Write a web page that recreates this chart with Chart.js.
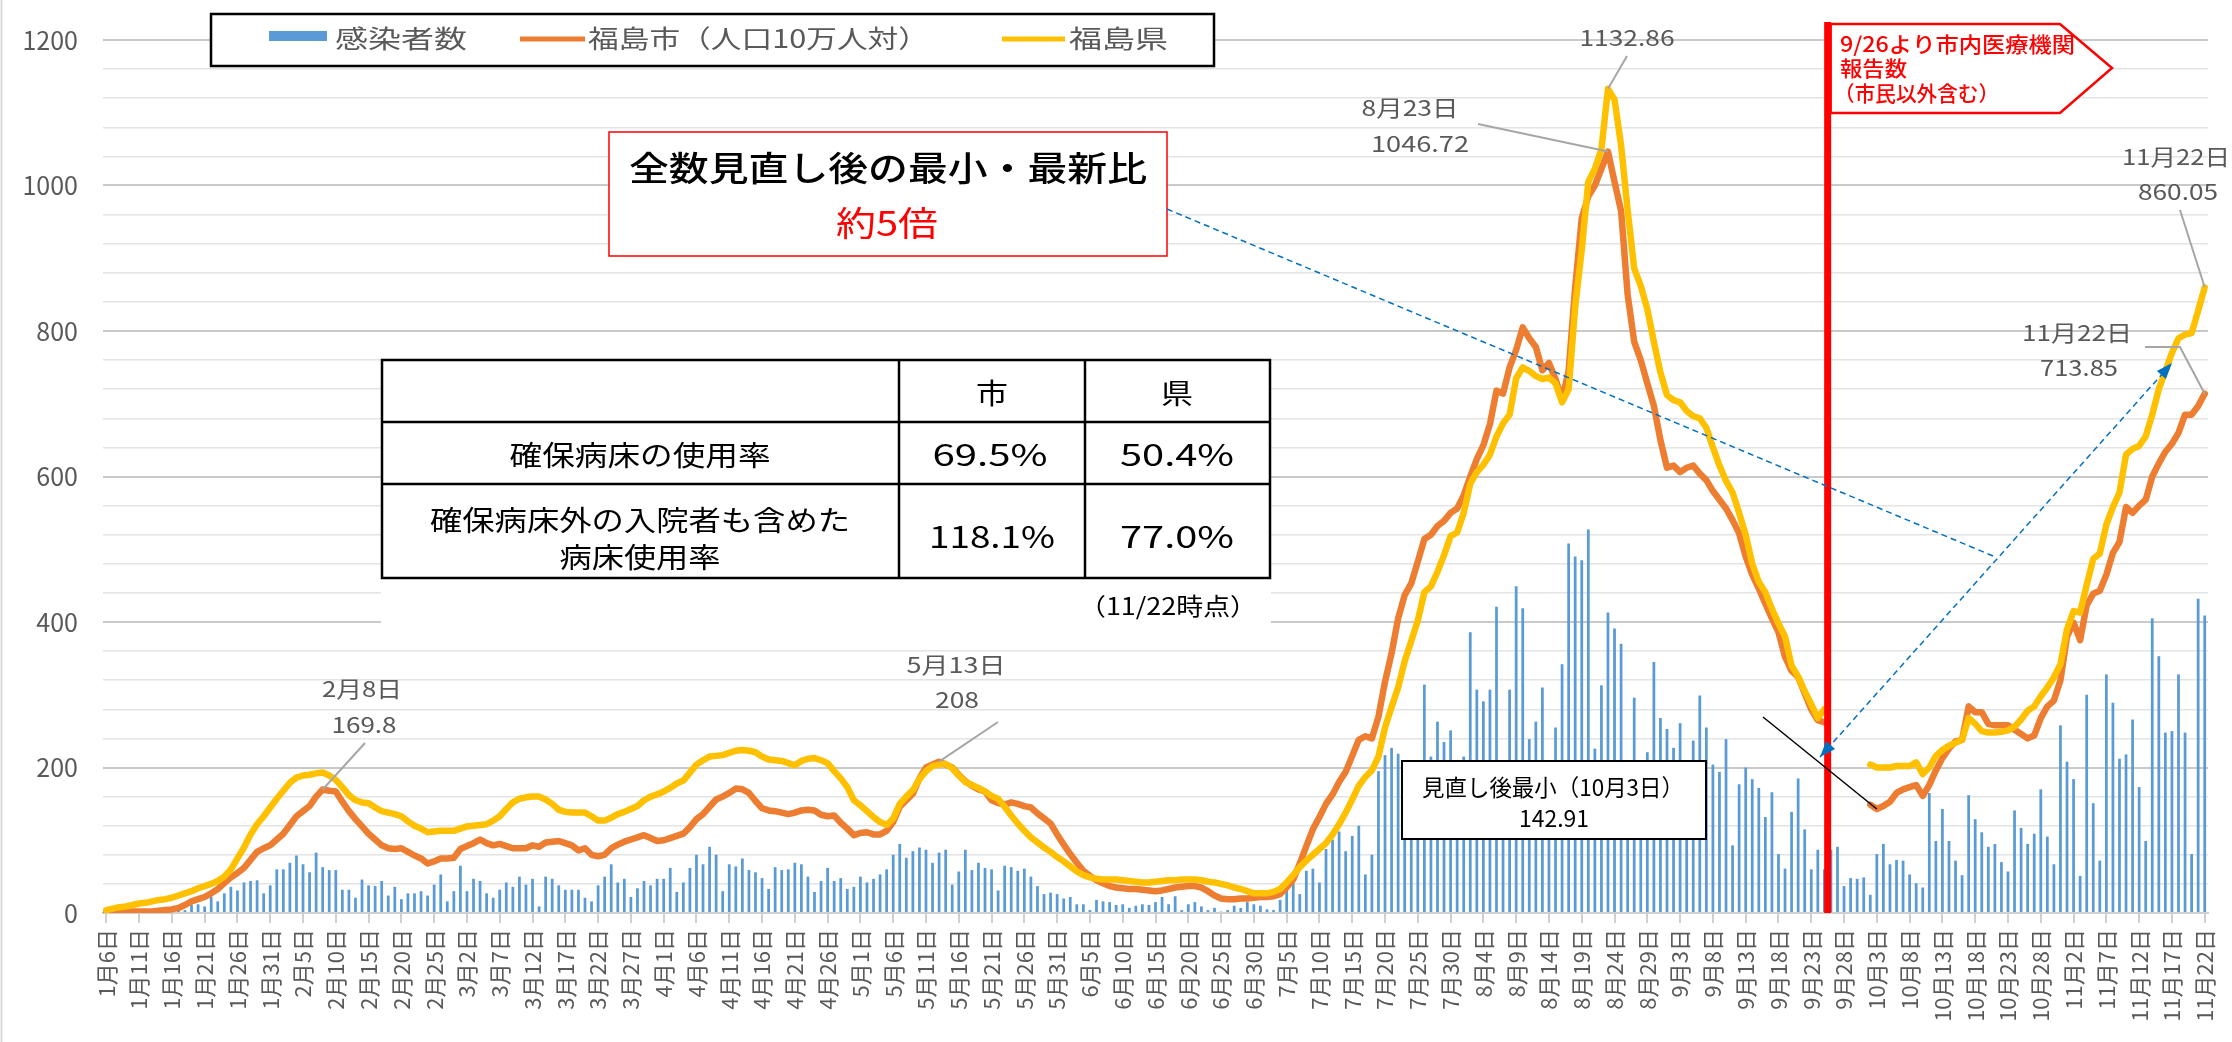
<!DOCTYPE html>
<html lang="ja">
<head>
<meta charset="utf-8">
<title>福島市 新規感染者数の推移</title>
<script src="https://cdn.jsdelivr.net/npm/chart.js@4.4.1/dist/chart.umd.min.js"></script>
<style>
  html, body { margin: 0; padding: 0; background: #fff; }
  #wrap { position: relative; width: 2232px; height: 1042px; }
</style>
</head>
<body>
<div id="wrap"><canvas id="grafico"></canvas></div>
<script>
// 1月6日から11月22日までの日付ラベル
const startDate = new Date(2022, 0, 6);
const dayCount = 321;
const dayLabels = [];
for (let i = 0; i < dayCount; i++) {
    const d = new Date(startDate.getFullYear(), startDate.getMonth(), startDate.getDate() + i);
    dayLabels.push((d.getMonth() + 1) + '月' + d.getDate() + '日');
}

// 感染者数（日別）
const cases = [
    1, 0, 2, 1, 1, 2, 2, 1, 3, 2,
    4, 3, 4, 11, 12, 9, 22, 16, 27, 36,
    31, 42, 44, 45, 27, 38, 60, 60, 69, 79,
    67, 56, 83, 63, 59, 59, 32, 32, 21, 46,
    38, 37, 44, 24, 36, 19, 27, 27, 30, 24,
    39, 53, 16, 30, 65, 30, 47, 44, 27, 21,
    32, 42, 36, 50, 39, 47, 9, 50, 47, 38,
    32, 32, 32, 21, 16, 38, 50, 67, 42, 47,
    22, 34, 44, 38, 47, 47, 62, 29, 42, 62,
    80, 67, 91, 80, 30, 67, 64, 75, 59, 56,
    48, 33, 63, 59, 60, 69, 67, 50, 29, 44,
    62, 44, 48, 33, 36, 50, 42, 47, 53, 60,
    80, 95, 76, 85, 90, 87, 69, 83, 87, 39,
    57, 87, 59, 69, 62, 60, 31, 65, 63, 58,
    61, 50, 37, 26, 28, 26, 20, 22, 12, 12,
    4, 18, 16, 15, 11, 12, 7, 10, 12, 11,
    15, 22, 12, 23, 4, 12, 15, 9, 4, 7,
    2, 4, 10, 7, 15, 12, 10, 5, 4, 18,
    31, 42, 26, 58, 61, 42, 88, 101, 112, 85,
    106, 120, 53, 80, 195, 217, 227, 219, 150, 175,
    120, 314, 215, 263, 235, 251, 170, 215, 386, 307,
    291, 307, 421, 180, 307, 449, 419, 239, 263, 310,
    150, 255, 342, 508, 490, 485, 527, 226, 313, 413,
    391, 370, 190, 296, 160, 221, 345, 268, 253, 227,
    261, 170, 237, 299, 255, 204, 194, 239, 93, 177,
    200, 184, 172, 132, 166, 81, 61, 139, 185, 115,
    60, 87, 60, 87, 91, 37, 48, 47, 49, 25,
    81, 95, 67, 73, 72, 53, 41, 35, 165, 99,
    143, 99, 72, 52, 162, 129, 111, 91, 95, 70,
    57, 141, 117, 95, 109, 170, 105, 67, 258, 208,
    184, 51, 300, 151, 72, 328, 289, 212, 218, 266,
    173, 99, 405, 353, 248, 250, 328, 248, 81, 432,
    409
];

// 福島市（人口10万人対）
const cityRate = [
    1, 1, 2, 2, 2, 2, 2, 2, 3, 4,
    5, 7, 11, 16, 19, 22, 27, 33, 41, 49,
    55, 62, 73, 84, 89, 93, 101, 109, 121, 133,
    140, 147, 160, 169.8, 168, 167, 153, 140, 129, 119,
    109, 101, 93, 89, 88, 89, 84, 79, 75, 68,
    71, 75, 75, 76, 88, 92, 96, 101, 96, 93,
    95, 92, 89, 89, 89, 93, 91, 97, 98, 99,
    96, 93, 86, 89, 80, 78, 80, 89, 94, 98,
    101, 104, 107, 103, 99, 100, 103, 106, 109, 118,
    129, 136, 146, 156, 160, 165, 171, 170, 165, 154,
    144, 141, 140, 138, 136, 138, 141, 142, 141, 135,
    133, 134, 124, 116, 107, 110, 111, 108, 108, 113,
    125, 146, 155, 164, 185, 200, 204, 208, 204, 200,
    190, 181, 175, 170, 167, 155, 151, 149, 152, 150,
    147, 145, 137, 130, 123, 108, 94, 81, 69, 58,
    51, 45, 41, 37, 35, 34, 33, 33, 32, 31,
    30, 31, 33, 35, 36, 37, 37, 35, 30, 24,
    20, 19, 19, 20, 20, 21, 22, 22, 23, 26,
    35, 46, 68, 92, 115, 132, 150, 163, 180, 194,
    216, 238, 243, 240, 270, 318, 357, 405, 437, 453,
    483, 514, 520, 532, 539, 550, 556, 574, 600, 624,
    643, 672, 718, 714, 750, 774, 805, 790, 778, 746,
    756, 734, 706, 745, 860, 955, 985, 1000, 1023, 1046.72,
    1005, 965, 850, 785, 760, 728, 697, 650, 612, 615,
    606, 612, 615, 604, 595, 580, 568, 556, 540, 522,
    490, 465, 446, 425, 405, 386, 352, 333, 324, 302,
    280, 265, 262, null, null, null, null, null, null, 149,
    142.91, 147, 153, 165, 170, 173, 176, 161, 176, 196,
    213, 226, 236, 238, 284, 276, 276, 260, 258, 258,
    258, 252, 246, 240, 244, 268, 284, 292, 320, 380,
    399, 375, 423, 439, 443, 465, 495, 510, 558, 550,
    560, 568, 600, 618, 634, 645, 660, 685, 685, 697,
    713.85
];

// 福島県（人口10万人対）
const prefRate = [
    4, 6, 8, 9, 11, 13, 14, 16, 18, 19,
    21, 24, 27, 30, 34, 37, 40, 44, 50, 60,
    75, 90, 108, 122, 133, 145, 157, 168, 179, 186,
    189, 190, 192, 193, 189, 183, 173, 162, 155, 152,
    151, 145, 140, 138, 136, 133, 126, 120, 116, 111,
    112, 113, 113, 113, 116, 119, 120, 121, 122, 127,
    133, 143, 152, 157, 159, 160, 160, 156, 150, 142,
    139, 138, 138, 138, 133, 127, 127, 131, 136, 139,
    143, 147, 155, 160, 163, 167, 172, 178, 182, 193,
    204, 210, 215, 216, 217, 220, 223, 224, 223, 221,
    215, 211, 210, 209, 206, 203, 209, 212, 213, 210,
    206, 195, 185, 173, 155, 148, 140, 132, 125, 121,
    130, 150, 160, 169, 184, 195, 202, 204, 205, 199,
    189, 180, 176, 172, 167, 161, 157, 146, 134, 123,
    113, 104, 97, 90, 84, 77, 71, 64, 57, 52,
    49, 47, 46, 46, 46, 45, 44, 43, 42, 42,
    43, 44, 45, 45, 46, 46, 46, 45, 43, 42,
    40, 38, 35, 33, 30, 27, 27, 27, 29, 33,
    42, 52, 63, 72, 80, 88, 96, 108, 122, 138,
    156, 175, 187, 196, 215, 255, 283, 310, 346, 374,
    402, 441, 449, 469, 492, 518, 523, 550, 590, 606,
    616, 630, 655, 673, 685, 735, 750, 745, 738, 734,
    736, 728, 702, 720, 833, 912, 1005, 1023, 1050, 1132.86,
    1118, 1055, 966, 886, 862, 830, 785, 743, 712, 705,
    702, 690, 683, 680, 667, 640, 615, 594, 578, 550,
    520, 480, 455, 441, 418, 398, 380, 340, 325, 305,
    287, 268, 280, null, null, null, null, null, null, 204,
    200, 200, 200, 202, 202, 202, 207, 191, 200, 216,
    224, 230, 234, 238, 268, 260, 250, 248, 248, 249,
    251, 256, 266, 278, 284, 298, 310, 324, 342, 390,
    415, 413, 451, 487, 494, 534, 558, 578, 630, 638,
    642, 655, 685, 720, 745, 770, 790, 795, 797, 828,
    860.05
];

// 病床使用率の表
const tableHead = ['', '市', '県'];
const tableRows = [
    ['確保病床の使用率', '69.5%', '50.4%'],
    ['確保病床外の入院者も含めた\n病床使用率', '118.1%', '77.0%']
];

// データラベル（日付インデックス, 系列）
const calloutCity = [
    { idx: 33, date: '2月8日', value: '169.8' },
    { idx: 127, date: '5月13日', value: '208' },
    { idx: 229, date: '8月23日', value: '1046.72' },
    { idx: 320, date: '11月22日', value: '713.85' }
];
const calloutPref = [
    { idx: 229, date: '', value: '1132.86' },
    { idx: 320, date: '11月22日', value: '860.05' }
];
const minIdx = 270;      // 10月3日
const changeIdx = 262.5; // 9/26 の手前

const FONT = '"Noto Sans CJK JP", "Noto Sans", sans-serif';
const GRAY = '#595959';

// 元画像は横に引き伸ばされているので、文字を指定幅に合わせて描く
function fitText(ctx, s, x, y, size, color, w, align, weight) {
    ctx.save();
    ctx.font = (weight || 'normal') + ' ' + size + 'px ' + FONT;
    ctx.fillStyle = color;
    ctx.textBaseline = 'middle';
    ctx.textAlign = align || 'center';
    const m = ctx.measureText(s).width;
    const sx = w ? w / m : 1;
    ctx.translate(x, y);
    ctx.scale(sx, 1);
    ctx.fillText(s, 0, 0);
    ctx.restore();
}

function line(ctx, pts, color, width, dash) {
    ctx.save();
    ctx.strokeStyle = color;
    ctx.lineWidth = width;
    ctx.setLineDash(dash || []);
    ctx.beginPath();
    ctx.moveTo(pts[0][0], pts[0][1]);
    for (let i = 1; i < pts.length; i++) ctx.lineTo(pts[i][0], pts[i][1]);
    ctx.stroke();
    ctx.restore();
}

function arrowHead(ctx, fx, fy, tx, ty, len, wid, color) {
    const a = Math.atan2(ty - fy, tx - fx);
    ctx.save();
    ctx.translate(tx, ty);
    ctx.rotate(a);
    ctx.beginPath();
    ctx.moveTo(0, 0);
    ctx.lineTo(-len, wid / 2);
    ctx.lineTo(-len, -wid / 2);
    ctx.closePath();
    ctx.fillStyle = color;
    ctx.fill();
    ctx.restore();
}

// 注記・表・凡例を描くプラグイン
const anotaciones = {
    id: 'anotaciones',
    afterDraw(chart) {
        const { ctx, chartArea } = chart;
        const xs = chart.scales.x, ys = chart.scales.y;
        const px = i => xs.getPixelForValue(i);
        const pyC = i => ys.getPixelForValue(cityRate[i]);
        const pyP = i => ys.getPixelForValue(prefRate[i]);

        // 左端の枠線
        line(ctx, [[1.5, 0], [1.5, 1042]], '#d9d9d9', 2);

        // 表（白地）
        ctx.fillStyle = '#fff';
        ctx.fillRect(381, 352, 890, 274);
        ctx.strokeStyle = '#000';
        ctx.lineWidth = 2.5;
        ctx.strokeRect(382, 360, 888, 218);
        line(ctx, [[382, 422], [1270, 422]], '#000', 2.5);
        line(ctx, [[382, 484], [1270, 484]], '#000', 2.5);
        line(ctx, [[899, 360], [899, 578]], '#000', 2.5);
        line(ctx, [[1085, 360], [1085, 578]], '#000', 2.5);
        fitText(ctx, tableHead[1], 992, 393, 28, '#000', 32);
        fitText(ctx, tableHead[2], 1177, 393, 28, '#000', 32);
        fitText(ctx, tableRows[0][0], 640, 455, 28, '#000', 261);
        fitText(ctx, tableRows[0][1], 990, 455, 30, '#000', 115);
        fitText(ctx, tableRows[0][2], 1177, 455, 30, '#000', 114);
        const r2 = tableRows[1][0].split('\n');
        fitText(ctx, r2[0], 640, 520, 28, '#000', 420);
        fitText(ctx, r2[1], 640, 557, 28, '#000', 161);
        fitText(ctx, tableRows[1][1], 992, 537, 30, '#000', 126);
        fitText(ctx, tableRows[1][2], 1177, 537, 30, '#000', 114);
        fitText(ctx, '（11/22時点）', 1168, 606, 24, '#000', 178);

        // 見出しボックス
        ctx.fillStyle = '#fff';
        ctx.fillRect(609, 132, 558, 124);
        ctx.strokeStyle = '#ff0000';
        ctx.lineWidth = 1.5;
        ctx.strokeRect(609, 132, 558, 124);
        fitText(ctx, '全数見直し後の最小・最新比', 888, 168, 34, '#000', 518, 'center', '500');
        fitText(ctx, '約5倍', 887, 223, 34, '#ff0000', 102);

        // 凡例
        ctx.fillStyle = '#fff';
        ctx.fillRect(211, 14, 1003, 52);
        ctx.strokeStyle = '#000';
        ctx.lineWidth = 2.5;
        ctx.strokeRect(211, 14, 1003, 52);
        ctx.fillStyle = '#5B9BD5';
        ctx.fillRect(269, 31, 58, 10);
        fitText(ctx, chart.data.datasets[2].label, 335, 38, 25, GRAY, 132, 'left');
        line(ctx, [[520, 39], [585, 39]], '#ED7D31', 5);
        fitText(ctx, chart.data.datasets[1].label, 588, 38, 25, GRAY, 341, 'left');
        line(ctx, [[1002, 39], [1065, 39]], '#FFC000', 5);
        fitText(ctx, chart.data.datasets[0].label, 1069, 38, 25, GRAY, 99, 'left');

        // 9/26 の区切り線と吹き出し
        const xr = (px(Math.floor(changeIdx)) + px(Math.ceil(changeIdx))) / 2;
        line(ctx, [[xr, 22], [xr, chartArea.bottom]], '#ff0000', 7);
        ctx.save();
        ctx.beginPath();
        ctx.moveTo(xr + 3, 24);
        ctx.lineTo(2060, 24);
        ctx.lineTo(2112, 68);
        ctx.lineTo(2060, 113);
        ctx.lineTo(xr + 3, 113);
        ctx.closePath();
        ctx.fillStyle = '#fff';
        ctx.fill();
        ctx.strokeStyle = '#ff0000';
        ctx.lineWidth = 2.5;
        ctx.stroke();
        ctx.restore();
        fitText(ctx, '9/26より市内医療機関', 1840, 44, 21, '#ff0000', 235, 'left', '500');
        fitText(ctx, '報告数', 1840, 68, 21, '#ff0000', 67, 'left', '500');
        fitText(ctx, '（市民以外含む）', 1834, 93, 21, '#ff0000', 165, 'left', '500');

        // データラベルと引き出し線
        const lc = '#a6a6a6';
        const lab = '#595959';
        // 2月8日
        line(ctx, [[365, 743], [px(33), pyC(33)]], lc, 2);
        fitText(ctx, calloutCity[0].date, 362, 689, 22, lab, 80);
        fitText(ctx, calloutCity[0].value, 364, 725, 22, lab, 65);
        // 5月13日
        line(ctx, [[998, 722], [px(127), pyC(127)]], lc, 2);
        fitText(ctx, calloutCity[1].date, 956, 665, 22, lab, 99);
        fitText(ctx, calloutCity[1].value, 957, 700, 22, lab, 44);
        // 8月23日（市）
        line(ctx, [[1478, 124], [px(229), pyC(229)]], lc, 2);
        fitText(ctx, calloutCity[2].date, 1410, 108, 22, lab, 97);
        fitText(ctx, calloutCity[2].value, 1420, 144, 22, lab, 98);
        // 8月23日（県）
        line(ctx, [[1627, 56], [px(229), pyP(229)]], lc, 2);
        fitText(ctx, calloutPref[0].value, 1627, 38, 22, lab, 95);
        // 11月22日（県）
        line(ctx, [[2180, 210], [px(320), pyP(320)]], lc, 2);
        fitText(ctx, calloutPref[1].date, 2176, 157, 22, lab, 108);
        fitText(ctx, calloutPref[1].value, 2178, 192, 22, lab, 80);
        // 11月22日（市）
        line(ctx, [[2145, 347], [2180, 347], [px(320), pyC(320)]], lc, 2);
        fitText(ctx, calloutCity[3].date, 2077, 333, 22, lab, 110);
        fitText(ctx, calloutCity[3].value, 2079, 368, 22, lab, 78);

        // 見直し後最小ボックス
        line(ctx, [[1763, 717], [px(minIdx), pyC(minIdx)]], '#000', 1.5);
        ctx.fillStyle = '#fff';
        ctx.fillRect(1402, 761, 304, 78);
        ctx.strokeStyle = '#000';
        ctx.lineWidth = 2;
        ctx.strokeRect(1402, 761, 304, 78);
        fitText(ctx, '見直し後最小（10月3日）', 1553, 787, 23, '#000', 262);
        fitText(ctx, '142.91', 1554, 818, 23, '#000', 70);

        // 青い点線の矢印
        const blue = '#0070C0';
        line(ctx, [[1167, 209], [1993, 556]], blue, 1.5, [6, 4]);
        const a0 = [1820, 757], a1 = [2172, 363];
        line(ctx, [a0, a1], blue, 1.5, [6, 4]);
        arrowHead(ctx, a1[0], a1[1], a0[0], a0[1], 16, 12, blue);
        arrowHead(ctx, a0[0], a0[1], a1[0], a1[1], 16, 12, blue);
    }
};

const ctx = document.getElementById('grafico').getContext('2d');
const grafico = new Chart(ctx, {
    type: 'bar',
    data: {
        labels: dayLabels,
        datasets: [
            {
                type: 'line',
                label: '福島県',
                data: prefRate,
                borderColor: '#FFC000',
                backgroundColor: '#FFC000',
                borderWidth: 6.5,
                borderJoinStyle: 'round',
                borderCapStyle: 'round',
                pointRadius: 0,
                tension: 0,
                spanGaps: false,
                order: 0
            },
            {
                type: 'line',
                label: '福島市（人口10万人対）',
                data: cityRate,
                borderColor: '#ED7D31',
                backgroundColor: '#ED7D31',
                borderWidth: 6.5,
                borderJoinStyle: 'round',
                borderCapStyle: 'round',
                pointRadius: 0,
                tension: 0,
                spanGaps: false,
                order: 1
            },
            {
                type: 'bar',
                label: '感染者数',
                data: cases,
                backgroundColor: '#5B9BD5',
                categoryPercentage: 1,
                barPercentage: 0.42,
                order: 2
            }
        ]
    },
    options: {
        responsive: true,
        maintainAspectRatio: false,
        animation: false,
        devicePixelRatio: 1,
        layout: { padding: { left: 0, right: 24, top: 25, bottom: 0 } },
        plugins: {
            legend: { display: false },
            tooltip: { enabled: false }
        },
        scales: {
            x: {
                grid: {
                    offset: false,
                    drawOnChartArea: false,
                    drawTicks: true,
                    tickLength: 10,
                    lineWidth: 2,
                    color: c => (c.index % 5 === 0 ? '#d0d0d0' : 'rgba(0,0,0,0)')
                },
                border: { display: true, color: '#d0d0d0', width: 2 },
                ticks: {
                    autoSkip: false,
                    minRotation: 90,
                    maxRotation: 90,
                    padding: 6,
                    color: GRAY,
                    font: { family: FONT, size: 22 },
                    callback: function (v, i) { return i % 5 === 0 ? this.getLabelForValue(v) : ''; }
                },
                afterFit: s => { s.height = 129; s.paddingLeft = 0; s.paddingRight = 0; }
            },
            y: {
                min: 0,
                max: 1200,
                grid: {
                    drawTicks: false,
                    color: c => (c.tick && c.tick.value % 200 === 0 ? '#c9c9c9' : '#e4e4e4'),
                    lineWidth: c => (c.tick && c.tick.value % 200 === 0 ? 2 : 1.5)
                },
                border: { display: false },
                ticks: {
                    autoSkip: false,
                    stepSize: 40,
                    padding: 25,
                    color: GRAY,
                    font: { family: FONT, size: 25 },
                    callback: v => (v % 200 === 0 ? v : '')
                },
                afterFit: s => { s.width = 103; }
            }
        }
    },
    plugins: [anotaciones]
});
</script>
</body>
</html>
